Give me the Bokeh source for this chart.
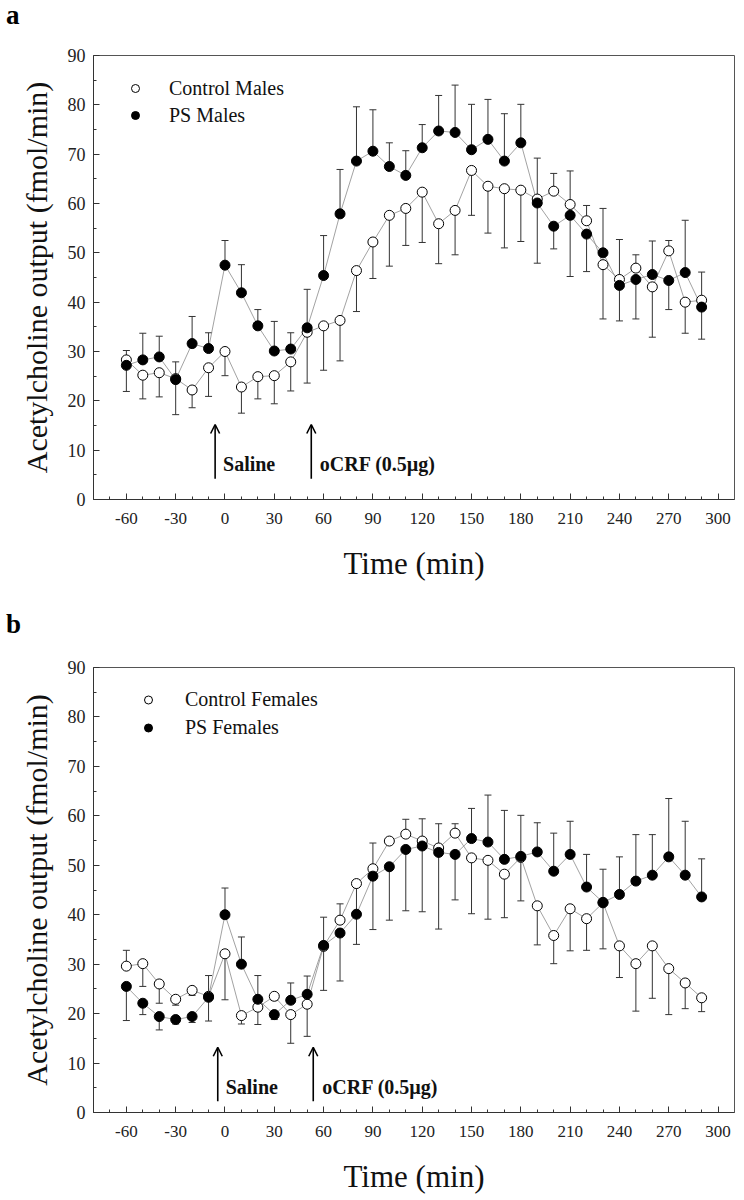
import numpy as np
from bokeh.plotting import figure
from bokeh.layouts import column
from bokeh.models import (FixedTicker, Label, Arrow, OpenHead, Range1d,
                          Legend, LegendItem, Div)
from bokeh.embed import file_html
from bokeh.resources import INLINE

# ---------------- data ----------------
time_min = [-60, -50, -40, -30, -20, -10, 0, 10, 20, 30, 40, 50, 60, 70, 80, 90,
            100, 110, 120, 130, 140, 150, 160, 170, 180, 190, 200, 210, 220,
            230, 240, 250, 260, 270, 280, 290]

# Panel a (males); error bars are signed: + = bar drawn upward, - = downward
ctrl_males = [28.3, 25.2, 25.7, 24.5, 22.2, 26.7, 30.0, 22.8, 24.9, 25.1, 27.9,
              33.9, 35.2, 36.3, 46.4, 52.2, 57.6, 59.0, 62.3, 55.9, 58.6, 66.7,
              63.5, 63.0, 62.7, 60.9, 62.5, 59.8, 56.5, 47.6, 44.6, 46.9, 43.1,
              50.4, 40.0, 40.4]
ctrl_males_err = [1.9, -4.8, -4.9, 3.4, -3.6, -5.8, -4.9, -5.3, -4.5, -5.7, -5.9,
                  -10.3, -9.0, -8.2, -8.3, -7.4, -10.3, -7.5, -10.2, -8.1, -9.0,
                  -9.1, -9.5, -12.0, -10.4, -13.0, 3.6, 6.8, 3.1, -11.0, 8.1, 2.7,
                  -10.2, 2.1, -6.3, 5.7]
ps_males = [27.2, 28.3, 28.9, 24.3, 31.6, 30.6, 47.5, 41.9, 35.2, 30.1, 30.5,
            34.8, 45.4, 57.9, 68.6, 70.6, 67.5, 65.7, 71.3, 74.7, 74.4, 70.9,
            73.0, 68.6, 72.3, 60.1, 55.4, 57.6, 53.8, 50.0, 43.4, 44.6, 45.6,
            44.4, 46.0, 39.0]
ps_males_err = [-5.3, 5.4, 4.2, -7.1, 5.5, 3.2, 5.0, 5.7, 3.3, 6.0, 3.3, 7.8,
                8.1, 9.0, 11.0, 8.4, 4.8, 5.0, 4.7, 7.2, 9.6, 9.2, 8.1, 9.6, 7.8,
                9.1, -4.6, -12.4, -7.6, 9.0, -7.2, -8.0, 6.8, -5.9, 10.6, -6.5]

# Panel b (females)
ctrl_females = [29.6, 30.1, 26.0, 22.9, 24.7, 23.5, 32.1, 19.6, 21.3, 23.5, 19.8,
                21.9, 33.6, 38.9, 46.3, 49.3, 54.9, 56.3, 54.9, 53.5, 56.5, 51.5,
                51.0, 48.2, 51.6, 41.8, 35.8, 41.2, 39.2, 42.4, 33.7, 30.1, 33.7,
                29.1, 26.2, 23.2]
ctrl_females_err = [3.2, -4.6, -3.9, -1.2, -1.0, -5.0, -9.3, -1.7, -3.5, -0.8,
                    -5.8, -6.5, -8.9, 3.3, -12.3, 5.2, 0.5, 3.0, 4.5, 4.9, 1.9,
                    -11.3, -11.9, -8.8, -8.8, -7.9, -5.7, -8.5, -6.4, -9.3, -6.4,
                    -9.6, -10.6, -9.3, -5.2, -2.8]
ps_females = [25.5, 22.1, 19.4, 18.8, 19.4, 23.3, 40.0, 30.0, 22.9, 19.8, 22.7,
              23.9, 33.8, 36.3, 40.1, 47.8, 49.7, 53.2, 53.9, 52.6, 52.2, 55.4,
              54.7, 51.2, 51.8, 52.7, 48.8, 52.2, 45.6, 42.5, 44.1, 46.8, 48.0,
              51.7, 48.0, 43.6]
ps_females_err = [-6.9, -2.3, -2.7, -0.9, -1.2, 4.4, 5.4, 5.5, 4.8, -1.0, 3.5,
                  3.7, 5.7, -9.7, 0.5, -10.8, -10.8, -12.4, -13.3, -15.5, -9.2,
                  6.1, 9.5, 9.9, 8.3, 5.9, 7.7, 6.7, 6.6, 6.7, 7.6, 9.4, 8.2,
                  11.8, 10.9, 7.7]

x_ticks = [-60, -30, 0, 30, 60, 90, 120, 150, 180, 210, 240, 270, 300]
y_ticks = [0, 10, 20, 30, 40, 50, 60, 70, 80, 90]
panel_letters = ["a", "b"]

SERIF = "Liberation Serif"


def letter_div(letter, height, line_height):
    return Div(text=letter, width=60, height=height, margin=(0, 0, 0, 0),
               styles={"font-family": SERIF, "font-size": "27px",
                       "font-weight": "bold", "color": "black",
                       "line-height": f"{line_height}px",
                       "padding-left": "6px", "overflow": "visible"})


def make_panel(ctrl, ctrl_err, ps, ps_err, ctrl_name, ps_name, height,
               top_border, frame_h, leg_xy, leg_standoff, leg_row, ann):
    p = figure(width=744, height=height, x_range=Range1d(-80, 310),
               y_range=Range1d(0, 90), output_backend="svg",
               toolbar_location=None, min_border_left=93, min_border_right=10,
               min_border_top=top_border,
               min_border_bottom=height - top_border - frame_h)
    p.xgrid.visible = False
    p.ygrid.visible = False
    p.outline_line_color = "#555555"
    p.outline_line_width = 1
    p.background_fill_color = "white"
    p.border_fill_color = "white"

    t = np.array(time_min, dtype=float)
    for vals, errs in ((ctrl, ctrl_err), (ps, ps_err)):
        v = np.array(vals)
        e = v + np.array(errs)
        p.segment(x0=t, y0=v, x1=t, y1=e, line_color="#333333", line_width=1)
        p.scatter(x=t, y=e, marker="dash", size=7, line_color="#333333",
                  line_width=1)

    p.line(t, ctrl, line_color="#8a8a8a", line_width=0.8)
    p.line(t, ps, line_color="#8a8a8a", line_width=0.8)
    r_open = p.scatter(t, ctrl, marker="circle", size=10, fill_color="white",
                       line_color="black", line_width=1)
    r_fill = p.scatter(t, ps, marker="circle", size=10, fill_color="black",
                       line_color="black", line_width=1)

    leg = Legend(items=[LegendItem(label=ctrl_name, renderers=[r_open]),
                        LegendItem(label=ps_name, renderers=[r_fill])],
                 location=leg_xy, border_line_color=None,
                 background_fill_alpha=0, padding=0, margin=0,
                 glyph_width=20, glyph_height=leg_row, label_height=leg_row,
                 spacing=1, label_standoff=leg_standoff,
                 label_text_font=SERIF, label_text_font_size="20px",
                 label_text_color="#111111")
    p.add_layout(leg)

    # axes
    p.xaxis.ticker = FixedTicker(ticks=x_ticks,
                                 minor_ticks=list(range(-70, 301, 10)))
    p.yaxis.ticker = FixedTicker(ticks=y_ticks,
                                 minor_ticks=list(range(5, 90, 5)))
    p.xaxis.major_label_overrides = {tk: str(tk) for tk in x_ticks}
    for ax in (p.xaxis, p.yaxis):
        ax.major_tick_in = 6
        ax.major_tick_out = 0
        ax.minor_tick_in = 3
        ax.minor_tick_out = 0
        ax.axis_line_color = "#333333"
        ax.major_tick_line_color = "#333333"
        ax.minor_tick_line_color = "#333333"
        ax.major_label_text_font = SERIF
        ax.major_label_text_color = "#222222"
        ax.axis_label_text_font = SERIF
        ax.axis_label_text_font_style = "normal"
        ax.axis_label_text_color = "#111111"
    p.xaxis.major_label_text_font_size = "17px"
    p.yaxis.major_label_text_font_size = "18px"
    p.xaxis.major_label_standoff = 13
    p.yaxis.major_label_standoff = 8
    p.xaxis.axis_label = "Time (min)"
    p.xaxis.axis_label_text_font_size = "31px"
    p.xaxis.axis_label_standoff = 19
    p.yaxis.axis_label = "Acetylcholine output (fmol/min)"
    p.yaxis.axis_label_text_font_size = "30px"
    p.yaxis.axis_label_standoff = 12

    # annotations (arrows + texts)
    for (ax_x, y0, y1, tx, ty, txt) in ann:
        p.add_layout(Arrow(end=OpenHead(size=9, line_width=1.6,
                                        line_color="black"),
                           x_start=ax_x, y_start=y0, x_end=ax_x, y_end=y1,
                           line_width=1.6, line_color="black"))
        p.add_layout(Label(x=tx, y=ty, text=txt, text_font=SERIF,
                           text_font_size="20px", text_font_style="bold",
                           text_baseline="middle", text_color="#111111"))
    return p


da = letter_div(panel_letters[0], height=26, line_height=30)
pa = make_panel(ctrl_males, ctrl_males_err, ps_males, ps_males_err,
                "Control Males", "PS Males",
                height=574, top_border=29, frame_h=444,
                leg_xy=(32, 371), leg_standoff=24, leg_row=26,
                ann=[(-6, 4.2, 15.2, -1.2, 7.1, "Saline"),
                     (52.5, 4.2, 15.2, 57.7, 7.1, "oCRF (0.5µg)")])
db = letter_div(panel_letters[1], height=48, line_height=48)
pb = make_panel(ctrl_females, ctrl_females_err, ps_females,
                ps_females_err, "Control Females", "PS Females",
                height=550, top_border=19, frame_h=445,
                leg_xy=(45, 371), leg_standoff=27, leg_row=27,
                ann=[(-4.4, 2.3, 13.2, 0.4, 5.1, "Saline"),
                     (53.7, 2.3, 13.2, 59.2, 5.1, "oCRF (0.5µg)")])

layout = column(da, pa, db, pb, spacing=0)
open("out.html", "w").write(file_html(layout, INLINE))
